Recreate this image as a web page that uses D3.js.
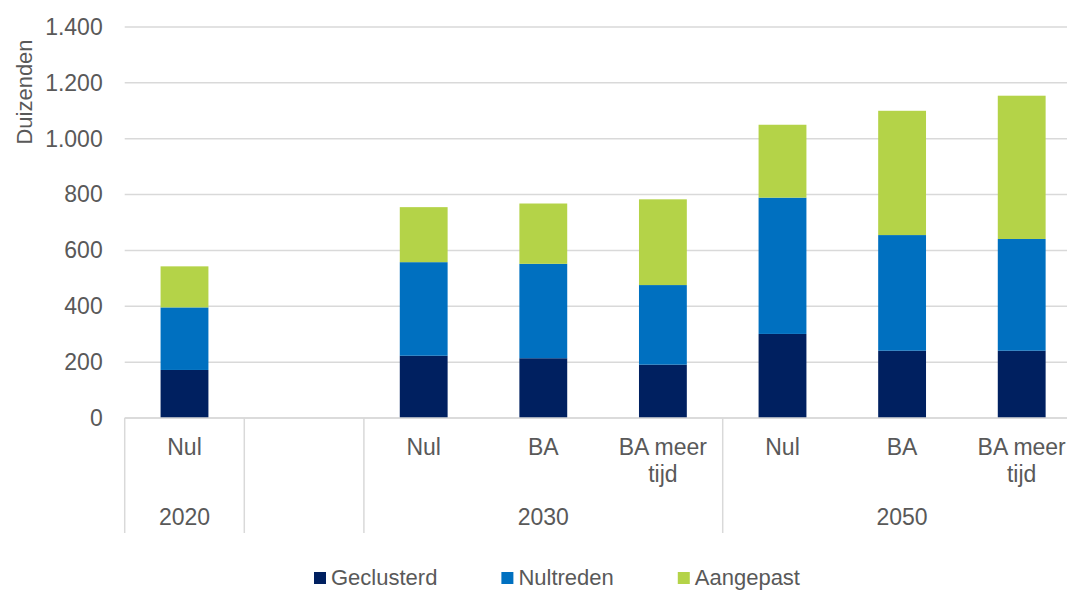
<!DOCTYPE html>
<html>
<head>
<meta charset="utf-8">
<script src="https://cdn.jsdelivr.net/npm/d3@7"></script>
<style>
  body { margin: 0; background: #fff; overflow: hidden; }
  text { font-family: "Liberation Sans", Arial, sans-serif; fill: #595959; }
</style>
</head>
<body>
<div id="chart"></div>
<script>
// categories: scenario per slot, and the year group it belongs to (slot 2 is an empty spacer)
const scenarios = ['Nul', '', 'Nul', 'BA', 'BA meer tijd', 'Nul', 'BA', 'BA meer tijd'];
const years = ['2020', '', '2030', '2030', '2030', '2050', '2050', '2050'];

// series values, in thousands
const seriesNames = ['Geclusterd', 'Nultreden', 'Aangepast'];
const geclusterd = [172, null, 223, 214, 191, 301, 241, 241];
const nultreden = [224, null, 335, 338, 285, 488, 414, 400];
const aangepast = [147, null, 197, 216, 307, 261, 445, 513];

const yTicks = [0, 200, 400, 600, 800, 1000, 1200, 1400];
const colors = ['#002060', '#0070C0', '#B4D348'];

const width = 1067;
const height = 591;
const plot = { left: 124.7, right: 1081.5, top: 27, bottom: 418 };

const svg = d3.select('#chart').append('svg')
  .attr('width', width)
  .attr('height', height);

const nl = d3.formatLocale({ decimal: ',', thousands: '.', grouping: [3], currency: ['', ''] });
const fmt = nl.format(',d');

const slot = d3.scaleBand()
  .domain(d3.range(scenarios.length))
  .range([plot.left, plot.right]);

const y = d3.scaleLinear()
  .domain([0, 1400])
  .range([plot.bottom, plot.top]);

// gridlines
svg.append('g')
  .selectAll('line')
  .data(yTicks)
  .join('line')
  .attr('x1', plot.left)
  .attr('x2', width)
  .attr('y1', d => y(d))
  .attr('y2', d => y(d))
  .attr('stroke', '#d9d9d9')
  .attr('stroke-width', 1.5);

// y labels
const yAxis = svg.append('g')
  .attr('transform', `translate(${plot.left},0)`)
  .call(d3.axisLeft(y).tickValues(yTicks).tickFormat(fmt).tickSize(0).tickPadding(22));
yAxis.select('.domain').remove();
yAxis.selectAll('text')
  .attr('font-size', 23)
  .attr('font-family', null)
  .attr('fill', '#595959');

svg.append('text')
  .attr('transform', 'translate(32,92) rotate(-90)')
  .attr('text-anchor', 'middle')
  .attr('font-size', 22)
  .text('Duizenden');

// stacked bars
const rows = scenarios.map((s, i) => ({
  i: i,
  Geclusterd: geclusterd[i],
  Nultreden: nultreden[i],
  Aangepast: aangepast[i]
})).filter(d => d.Geclusterd !== null);

const stacked = d3.stack().keys(seriesNames)(rows);
const barW = slot.bandwidth() * 0.4;

svg.append('g')
  .selectAll('g')
  .data(stacked)
  .join('g')
  .attr('fill', (d, k) => colors[k])
  .selectAll('rect')
  .data(d => d)
  .join('rect')
  .attr('x', d => slot(d.data.i) + (slot.bandwidth() - barW) / 2)
  .attr('width', barW)
  .attr('y', d => y(d[1]))
  .attr('height', d => y(d[0]) - y(d[1]));

// baseline
svg.append('line')
  .attr('x1', plot.left)
  .attr('x2', width)
  .attr('y1', plot.bottom)
  .attr('y2', plot.bottom)
  .attr('stroke', '#d9d9d9')
  .attr('stroke-width', 1.5);

// year groups: consecutive runs of the same year
const groups = [];
years.forEach((yr, i) => {
  const last = groups[groups.length - 1];
  if (last && last.year === yr && yr !== '') last.end = i;
  else groups.push({ year: yr, start: i, end: i });
});

const seps = [...groups.map(g => slot(g.start)), plot.right];
svg.append('g')
  .selectAll('line')
  .data(seps)
  .join('line')
  .attr('x1', d => d)
  .attr('x2', d => d)
  .attr('y1', plot.bottom)
  .attr('y2', 533)
  .attr('stroke', '#d9d9d9')
  .attr('stroke-width', 1.5);

// scenario labels, wrapped to the slot width
const maxW = slot.bandwidth() - 8;
svg.append('g')
  .selectAll('text')
  .data(scenarios)
  .join('text')
  .attr('text-anchor', 'middle')
  .attr('font-size', 23)
  .attr('y', 455)
  .each(function (label, i) {
    const t = d3.select(this);
    const cx = slot(i) + slot.bandwidth() / 2;
    const words = label.split(' ');
    let line = [];
    let tspan = t.append('tspan').attr('x', cx).attr('dy', 0);
    words.forEach(w => {
      line.push(w);
      tspan.text(line.join(' '));
      if (tspan.node().getComputedTextLength() > maxW && line.length > 1) {
        line.pop();
        tspan.text(line.join(' '));
        line = [w];
        tspan = t.append('tspan').attr('x', cx).attr('dy', 27).text(w);
      }
    });
  });

// year labels
svg.append('g')
  .selectAll('text')
  .data(groups)
  .join('text')
  .attr('text-anchor', 'middle')
  .attr('font-size', 23)
  .attr('x', d => (slot(d.start) + slot(d.end) + slot.bandwidth()) / 2)
  .attr('y', 525)
  .text(d => d.year);

// legend
const legend = svg.append('g').attr('transform', 'translate(314,0)');
let lx = 0;
seriesNames.forEach((name, k) => {
  const item = legend.append('g').attr('transform', `translate(${lx},0)`);
  item.append('rect')
    .attr('x', 0)
    .attr('y', 572)
    .attr('width', 12)
    .attr('height', 12)
    .attr('fill', colors[k]);
  const txt = item.append('text')
    .attr('x', 17)
    .attr('y', 585)
    .attr('font-size', 22)
    .text(name);
  lx += 17 + txt.node().getComputedTextLength() + 64;
});
</script>
</body>
</html>
